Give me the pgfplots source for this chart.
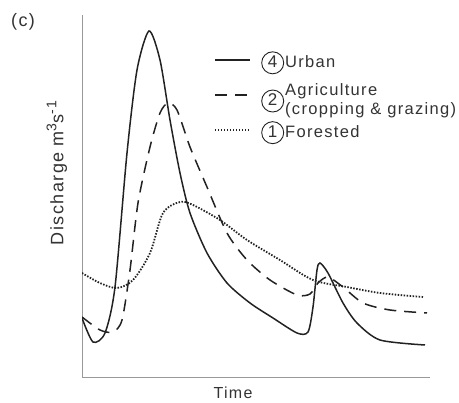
\documentclass[border=0pt]{standalone}
\usepackage{pgfplots}
\pgfplotsset{compat=1.18}
\usepackage{fontspec}
\setmainfont{Liberation Sans}[LetterSpace=8]
\definecolor{ink}{HTML}{222222}
\definecolor{txt}{HTML}{333333}
\definecolor{axc}{HTML}{999999}
\newcommand{\cnum}[1]{\tikz[baseline=(n.base)]\node[draw=ink,line width=0.9bp,circle,inner sep=0pt,minimum size=22bp,text=txt,font=\fontsize{17bp}{18bp}\selectfont](n){#1};}
\begin{document}
\begin{tikzpicture}
\path[use as bounding box] (0,0) rectangle (459bp,403bp);
\node[text=txt,font=\fontsize{18bp}{20bp}\selectfont] at (23bp,381bp) {(c)};
\begin{axis}[
  at={(82bp,25bp)}, anchor=south west,
  scale only axis, width=348bp, height=363bp,
  xmin=82, xmax=430, ymin=0, ymax=363,
  axis lines*=left,
  axis line style={axc, line width=1bp},
  xtick=\empty, ytick=\empty,
  label style={font=\fontsize{16bp}{18bp}\selectfont, text=txt},
  xlabel={Time},
  ylabel={\fontsize{18bp}{20bp}\selectfont Discharge m{\fontsize{14bp}{14bp}\selectfont\raisebox{7bp}{3}}s{\fontsize{14bp}{14bp}\selectfont\raisebox{7bp}{-1}}},
  xlabel style={at={(axis description cs:0.434,-0.041)}, anchor=center},
  ylabel style={at={(axis description cs:-0.072,0.565)}, anchor=center},
  legend style={at={(axis description cs:0.37,0.91)}, anchor=north west, draw=none, fill=none,
    row sep=11bp, font=\fontsize{16.5bp}{18.5bp}\selectfont, text=txt,
    nodes={inner sep=1.5bp}},
  legend cell align=left,
  legend image code/.code={\draw[#1] (0bp,0bp) -- (35bp,0bp);},
]
\addplot[ink, line width=1.5bp, smooth, tension=0.45] coordinates {
(82,60) (93,36) (105,45) (115,91) (127,225) (137,308) (149,347) (160,318)
(170,258) (180,205) (190,165) (207,125) (227,95) (250,75) (273,60) (297,45)
(308,46) (313,71) (317,108) (320,115) (328,105) (343,75) (357,55) (380,38) (425,33)};
\addlegendentry{\hspace*{9bp}\cnum{4}\hspace{1bp}Urban}
\addplot[ink, line width=1.5bp, dash pattern=on 12bp off 8bp, smooth, tension=0.45] coordinates {
(82,61) (100,48) (113,46) (122,58) (130,108) (138,175) (150,231) (160,265)
(168,275) (177,268) (190,231) (207,191) (227,145) (247,118) (270,98) (297,83)
(310,84) (318,95) (328,101) (343,91) (363,75) (390,68) (427,65)};
\addlegendentry{\hspace*{9bp}\cnum{2}\hspace{1bp}\begin{tabular}[c]{@{}l@{}}Agriculture\\(cropping \& grazing)\end{tabular}}
\addplot[ink, line width=1.8bp, dash pattern=on 1.5bp off 1.5bp, smooth, tension=0.5] coordinates {
(82,105) (100,95) (117,90) (133,98) (150,125) (163,165) (180,176) (193,173)
(220,158) (247,138) (280,118) (313,98) (347,91) (380,85) (423,81)};
\addlegendentry{\hspace*{9bp}\cnum{1}\hspace{1bp}Forested}
\end{axis}
\end{tikzpicture}
\end{document}
